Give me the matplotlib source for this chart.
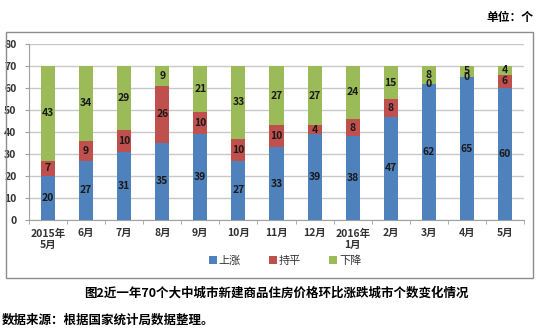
import numpy as np
import matplotlib
matplotlib.use("Agg")
import matplotlib.pyplot as plt
from matplotlib.patches import Rectangle

plt.rcParams['font.family'] = ['Noto Sans CJK SC', 'DejaVu Sans']

months = ["2015年\n5月", "6月", "7月", "8月", "9月", "10月", "11月", "12月",
          "2016年\n1月", "2月", "3月", "4月", "5月"]
up = [20, 27, 31, 35, 39, 27, 33, 39, 38, 47, 62, 65, 60]
flat = [7, 9, 10, 26, 10, 10, 10, 4, 8, 8, 0, 0, 6]
down = [43, 34, 29, 9, 21, 33, 27, 27, 24, 15, 8, 5, 4]
series_names = ["上涨", "持平", "下降"]
colors = ["#4F81BD", "#C0504D", "#9BBB59"]

fig = plt.figure(figsize=(5.45, 3.30), dpi=100)
ax = fig.add_axes([29/545, 1-220/330, (524-29)/545, (220-44)/330])

# outer frame
fig.patches.append(Rectangle((6/545, 1-278/330), (533-6)/545, (278-32)/330,
                             transform=fig.transFigure, fill=False,
                             edgecolor="#8c8c8c", linewidth=1.0))

x = np.arange(len(months))
w = 0.37
bottom = np.zeros(len(months))
for vals, name, c in zip([up, flat, down], series_names, colors):
    vals = np.array(vals)
    ax.bar(x, vals, w, bottom=bottom, color=c, label=name, zorder=3)
    for xi, b, v in zip(x, bottom, vals):
        ax.text(xi, b + v/2, str(v), ha="center", va="center", fontsize=7.5,
                fontweight="bold", color="#1a1a1a", zorder=4)
    bottom += vals

ax.set_xlim(-0.5, len(months) - 0.5)
ax.set_ylim(0, 80)
ax.set_yticks(range(0, 81, 10))
ax.yaxis.grid(True, color="#c8c8c8", linewidth=1.0, zorder=0)
ax.set_xticks(x)
ax.set_xticklabels(months, fontsize=7.5, fontweight="bold", color="#333333",
                   linespacing=1.2)
ax.set_xticks(np.arange(-0.5, len(months), 1), minor=True)
ax.tick_params(axis="x", which="major", length=0, pad=6)
ax.tick_params(axis="x", which="minor", length=3, color="#a0a0a0")
ax.tick_params(axis="y", length=3, color="#a0a0a0", labelsize=7.5, pad=6)
for lab in ax.get_yticklabels():
    lab.set_fontweight("bold")
    lab.set_color("#333333")
for s in ["top", "right"]:
    ax.spines[s].set_visible(False)
ax.spines["left"].set_color("#a0a0a0")
ax.spines["bottom"].set_color("#a0a0a0")

leg = fig.legend(loc="center", bbox_to_anchor=(285/545, 1-261/330), ncol=3,
                 frameon=False, fontsize=8, handlelength=0.7, handleheight=0.7,
                 handletextpad=0.2, columnspacing=2.5)
for t in leg.get_texts():
    t.set_color("#333333")

fig.text(533/545, 1-17/330, "单位：个", ha="right", va="center", fontsize=8.5,
         fontweight="bold")
fig.text(276/545, 1-293/330, "图2近一年70个大中城市新建商品住房价格环比涨跌城市个数变化情况",
         ha="center", va="center", fontsize=9, fontweight="bold")
fig.text(2/545, 1-320/330, "数据来源：根据国家统计局数据整理。", ha="left",
         va="center", fontsize=9, fontweight="bold")

fig.savefig("out.png", dpi=100)
